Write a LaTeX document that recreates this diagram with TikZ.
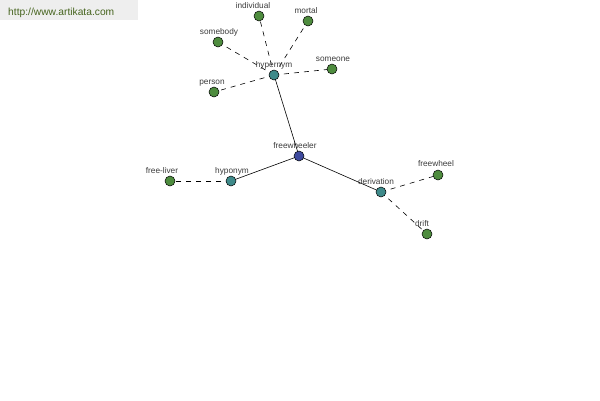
\documentclass[tikz,border=0pt]{standalone}
\usepackage{fontspec}
\setmainfont{Liberation Sans}
\begin{document}
\begin{tikzpicture}[x=1bp,y=-1bp,
  dot/.style={circle,draw=black,line width=0.5bp,minimum size=10bp,inner sep=0pt},
  leaf/.style={dot,fill=leafgreen},
  rel/.style={dot,fill=relteal},
  root/.style={dot,fill=rootblue},
  lbl/.style={font=\fontsize{8.3}{9}\selectfont,text=labelgray,inner sep=0pt,anchor=base},
  solidedge/.style={draw=black,line width=0.6bp},
  dashedge/.style={draw=black,line width=0.6bp,dash pattern=on 5bp off 5bp}]
\definecolor{leafgreen}{RGB}{78,140,62}
\definecolor{relteal}{RGB}{62,138,138}
\definecolor{rootblue}{RGB}{62,74,158}
\definecolor{labelgray}{RGB}{60,60,60}
\definecolor{bannerbg}{RGB}{238,238,238}
\definecolor{bannertext}{RGB}{70,100,30}
\useasboundingbox (0,0) rectangle (600,400);
\fill[white] (0,0) rectangle (600,400);
\fill[bannerbg] (0,0) rectangle (138,20);
\node[font=\fontsize{10.3}{12}\selectfont,text=bannertext,anchor=base west,inner sep=0pt] (banner) at (8,15) {http://www.artikata.com};
% coordinates
\coordinate (cfw) at (299,156);
\coordinate (chyper) at (274,75);
\coordinate (chypo) at (231,181);
\coordinate (cder) at (381,192);
\coordinate (cliver) at (170,181);
\coordinate (cwheel) at (438,175);
\coordinate (cdrift) at (427,234);
\coordinate (cperson) at (214,92);
\coordinate (csomebody) at (218,42);
\coordinate (cindiv) at (259,16);
\coordinate (cmortal) at (308,21);
\coordinate (csomeone) at (332,69);
% edges
\draw[solidedge] (cfw) -- (chyper);
\draw[solidedge] (cfw) -- (chypo);
\draw[solidedge] (cfw) -- (cder);
\draw[dashedge] (chypo) -- (cliver);
\draw[dashedge] (cder) -- (cwheel);
\draw[dashedge] (cder) -- (cdrift);
\draw[dashedge] (chyper) -- (cperson);
\draw[dashedge] (chyper) -- (csomebody);
\draw[dashedge] (chyper) -- (cindiv);
\draw[dashedge] (chyper) -- (cmortal);
\draw[dashedge] (chyper) -- (csomeone);
% labels
\node[lbl] (lfw) at (295,148) {freewheeler};
\node[lbl] (lhyper) at (274,67) {hypernym};
\node[lbl] (lhypo) at (232,173) {hyponym};
\node[lbl] (lder) at (376,184) {derivation};
\node[lbl] (lliver) at (162,173) {free-liver};
\node[lbl] (lwheel) at (436,166) {freewheel};
\node[lbl] (ldrift) at (422,226) {drift};
\node[lbl] (lperson) at (212,84) {person};
\node[lbl] (lsomebody) at (219,34) {somebody};
\node[lbl] (lindiv) at (253,8) {individual};
\node[lbl] (lmortal) at (306,13) {mortal};
\node[lbl] (lsomeone) at (333,61) {someone};
% nodes
\node[root] (fw) at (cfw) {};
\node[rel] (hyper) at (chyper) {};
\node[rel] (hypo) at (chypo) {};
\node[rel] (der) at (cder) {};
\node[leaf] (liver) at (cliver) {};
\node[leaf] (wheel) at (cwheel) {};
\node[leaf] (drift) at (cdrift) {};
\node[leaf] (person) at (cperson) {};
\node[leaf] (somebody) at (csomebody) {};
\node[leaf] (indiv) at (cindiv) {};
\node[leaf] (mortal) at (cmortal) {};
\node[leaf] (someone) at (csomeone) {};
\end{tikzpicture}
\end{document}
